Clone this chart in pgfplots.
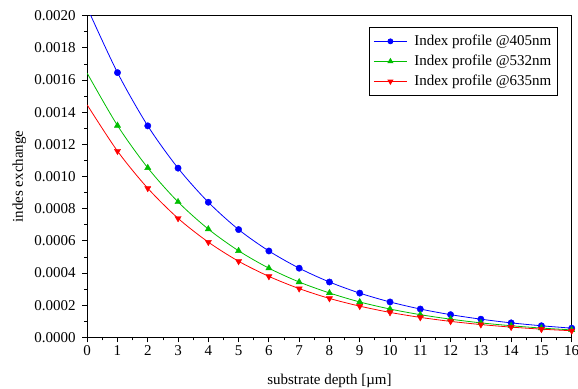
\documentclass[border=0pt]{standalone}
\usepackage{fontspec}
\setmainfont{Liberation Serif}
\usepackage{pgfplots}
\pgfplotsset{compat=1.18}
\definecolor{cblue}{RGB}{0,0,255}
\definecolor{cgreen}{RGB}{0,190,0}
\definecolor{cred}{RGB}{255,0,0}
\begin{document}
\begin{tikzpicture}
\begin{axis}[
  name=a,
  scale only axis,
  width=485pt, height=322pt,
  xmin=0, xmax=16, ymin=0, ymax=0.002,
  xtick={0,1,...,16},
  ytick={0,0.0002,0.0004,0.0006,0.0008,0.0010,0.0012,0.0014,0.0016,0.0018,0.0020},
  minor x tick num=1, minor y tick num=1,
  scaled y ticks=false,
  y tick label style={xshift=-3pt, /pgf/number format/.cd, fixed, fixed zerofill, precision=4},
  /pgf/number format/assume math mode=true,
  tick align=outside,
  xtick pos=bottom, ytick pos=left,
  major tick length=5pt, minor tick length=3pt,
  axis line style={line width=0.9pt},
  every tick/.style={black, line width=0.8pt},
  font=\fontsize{15}{18}\selectfont,
  xlabel={substrate depth [µm]},
  ylabel={indes exchange},
  every axis x label/.style={at={(axis description cs:0.5,-0.147)}, anchor=base},
  every axis y label/.style={at={(axis description cs:-0.14,0.5)}, anchor=center, rotate=90},
  legend style={at={(0.971,0.965)}, anchor=north east, draw=black, line width=0.8pt,
    font=\fontsize{15}{18}\selectfont, row sep=4pt, column sep=5pt,
    inner xsep=4pt, inner ysep=6pt},
  legend cell align=left,
  legend image code/.code={%
    \draw[mark repeat=2,mark phase=2,#1] plot coordinates {(0pt,0pt) (16.5pt,0pt) (33pt,0pt)};},
  clip=true,
]
% smooth curves
\addplot[cblue, line width=0.8pt, smooth, no marks, forget plot]
coordinates {
(0,0.00205) (1,0.001646) (2,0.001315) (3,0.001052) (4,0.00084) (5,0.00067)
(6,0.000537) (7,0.00043) (8,0.000344) (9,0.000275) (10,0.00022) (11,0.000176)
(12,0.000141) (13,0.000113) (14,0.00009) (15,0.000072) (16,0.000057)
};
\addplot[cgreen, line width=0.8pt, smooth, no marks, forget plot]
coordinates {
(0,0.001642) (1,0.001317) (2,0.001054) (3,0.000842) (4,0.000673) (5,0.000538)
(6,0.00043) (7,0.000344) (8,0.000276) (9,0.00022) (10,0.000176) (11,0.000141)
(12,0.000113) (13,0.00009) (14,0.0000722) (15,0.0000577) (16,0.0000462)
};
\addplot[cred, line width=0.8pt, smooth, no marks, forget plot]
coordinates {
(0,0.001445) (1,0.001158) (2,0.000927) (3,0.00074) (4,0.000592) (5,0.000473)
(6,0.000379) (7,0.000303) (8,0.000242) (9,0.000194) (10,0.000155) (11,0.000124)
(12,0.0000993) (13,0.0000795) (14,0.0000636) (15,0.0000509) (16,0.0000410)
};
% markers
\addplot[cblue, only marks, mark=*, mark size=3.2pt, mark options={fill=cblue}, forget plot]
coordinates {
(1,0.001646) (2,0.001315) (3,0.001052) (4,0.00084) (5,0.00067)
(6,0.000537) (7,0.00043) (8,0.000344) (9,0.000275) (10,0.00022) (11,0.000176)
(12,0.000141) (13,0.000113) (14,0.00009) (15,0.000072) (16,0.000057)
};
\addplot[cgreen, only marks, mark=triangle*, mark size=3.6pt, mark options={fill=cgreen}, forget plot]
coordinates {
(1,0.001317) (2,0.001054) (3,0.000842) (4,0.000673) (5,0.000538)
(6,0.00043) (7,0.000344) (8,0.000276) (9,0.00022) (10,0.000176) (11,0.000141)
(12,0.000113) (13,0.00009) (14,0.0000722) (15,0.0000577) (16,0.0000462)
};
\addplot[cred, only marks, mark=triangle*, mark size=3.6pt, mark options={fill=cred, rotate=180}, forget plot]
coordinates {
(1,0.001158) (2,0.000927) (3,0.00074) (4,0.000592) (5,0.000473)
(6,0.000379) (7,0.000303) (8,0.000242) (9,0.000194) (10,0.000155) (11,0.000124)
(12,0.0000993) (13,0.0000795) (14,0.0000636) (15,0.0000509) (16,0.0000410)
};
\addlegendimage{cblue, line width=0.8pt, mark=*, mark size=2.5pt, mark options={solid, fill=cblue}}
\addlegendentry{Index profile @405nm}
\addlegendimage{cgreen, line width=0.8pt, mark=triangle*, mark size=2.8pt, mark options={solid, fill=cgreen}}
\addlegendentry{Index profile @532nm}
\addlegendimage{cred, line width=0.8pt, mark=triangle*, mark size=2.8pt, mark options={solid, fill=cred, rotate=180}}
\addlegendentry{Index profile @635nm}
\end{axis}
\pgfresetboundingbox
\path ([shift={(-87.3pt,-51.3pt)}]a.south west) rectangle ([shift={(6.3pt,15.7pt)}]a.north east);
\end{tikzpicture}
\end{document}
